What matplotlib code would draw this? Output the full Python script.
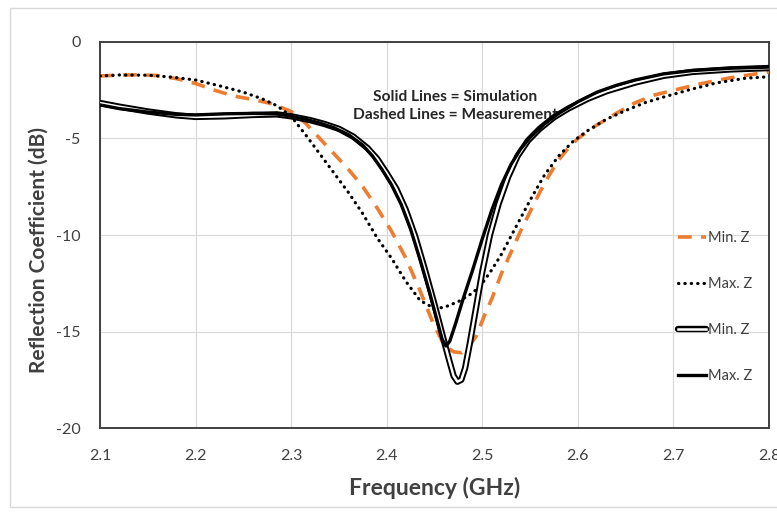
import matplotlib.pyplot as plt
from matplotlib.patches import Rectangle

plt.rcParams['font.family'] = ['Lato', 'DejaVu Sans']

# measured, Min. Z (orange dashed)
f_meas_min = [2.100, 2.120, 2.140, 2.160, 2.180, 2.200, 2.220, 2.240, 2.260, 2.280, 2.300,
              2.315, 2.330, 2.345, 2.360, 2.375, 2.390, 2.405, 2.420, 2.435, 2.448, 2.460,
              2.470, 2.478, 2.486, 2.494, 2.502, 2.510, 2.520, 2.530, 2.540, 2.550, 2.560,
              2.570, 2.580, 2.590, 2.600, 2.620, 2.640, 2.660, 2.680, 2.700, 2.730, 2.760,
              2.780, 2.800]
s_meas_min = [-1.76, -1.72, -1.70, -1.74, -1.90, -2.15, -2.50, -2.80, -2.98, -3.20, -3.60,
              -4.20, -5.00, -5.80, -6.60, -7.50, -8.60, -9.80, -11.2, -12.9, -14.5, -15.7,
              -16.05, -16.1, -15.8, -15.2, -14.2, -13.3, -12.0, -10.9, -9.8, -8.8, -7.8,
              -6.9, -6.1, -5.5, -5.0, -4.3, -3.7, -3.15, -2.75, -2.5, -2.15, -1.85,
              -1.70, -1.55]

# measured, Max. Z (black dotted)
f_meas_max = [2.100, 2.120, 2.150, 2.175, 2.200, 2.225, 2.250, 2.270, 2.285, 2.300, 2.315,
              2.330, 2.345, 2.360, 2.375, 2.390, 2.405, 2.420, 2.435, 2.450, 2.460, 2.475,
              2.490, 2.500, 2.510, 2.520, 2.535, 2.550, 2.565, 2.580, 2.595, 2.610, 2.630,
              2.650, 2.670, 2.690, 2.715, 2.745, 2.775, 2.800]
s_meas_max = [-1.76, -1.71, -1.72, -1.82, -1.97, -2.27, -2.60, -2.95, -3.30, -3.85, -4.80,
              -5.80, -6.80, -7.80, -8.90, -10.15, -11.2, -12.4, -13.4, -13.8, -13.75, -13.45,
              -13.0, -12.5, -11.8, -11.0, -9.6, -8.2, -6.9, -5.9, -5.15, -4.6, -4.0,
              -3.55, -3.15, -2.85, -2.5, -2.12, -1.88, -1.80]

# simulated, Min. Z (double line)
f_sim_min = [2.100, 2.120, 2.150, 2.180, 2.200, 2.230, 2.260, 2.285, 2.300, 2.320, 2.335,
             2.350, 2.365, 2.380, 2.390, 2.400, 2.410, 2.420, 2.430, 2.440, 2.450, 2.460,
             2.466, 2.470, 2.474, 2.478, 2.482, 2.487, 2.493, 2.500, 2.508, 2.517, 2.527,
             2.537, 2.548, 2.560, 2.575, 2.590, 2.610, 2.630, 2.660, 2.690, 2.720, 2.760,
             2.800]
s_sim_min = [-3.16, -3.35, -3.60, -3.80, -3.88, -3.85, -3.78, -3.75, -3.85, -4.05, -4.25,
             -4.50, -4.90, -5.50, -6.05, -6.80, -7.60, -8.70, -10.1, -11.8, -13.6, -15.5,
             -16.6, -17.3, -17.6, -17.5, -16.9, -15.6, -13.9, -11.9, -10.0, -8.4, -7.0,
             -5.9, -5.1, -4.5, -3.9, -3.45, -2.95, -2.55, -2.10, -1.75, -1.55, -1.42,
             -1.35]

# simulated, Max. Z (black solid)
f_sim_max = [2.100, 2.120, 2.150, 2.180, 2.200, 2.230, 2.260, 2.285, 2.300, 2.315, 2.330,
             2.345, 2.360, 2.375, 2.385, 2.395, 2.405, 2.415, 2.425, 2.435, 2.445, 2.452,
             2.458, 2.462, 2.466, 2.472, 2.480, 2.490, 2.500, 2.510, 2.520, 2.530, 2.540,
             2.550, 2.565, 2.580, 2.600, 2.620, 2.640, 2.660, 2.690, 2.720, 2.760, 2.800]
s_sim_max = [-3.26, -3.45, -3.63, -3.75, -3.78, -3.72, -3.70, -3.73, -3.85, -4.00, -4.20,
             -4.45, -4.80, -5.35, -5.90, -6.60, -7.40, -8.40, -9.70, -11.3, -13.0, -14.3,
             -15.4, -15.75, -15.5, -14.6, -13.3, -11.8, -10.2, -8.7, -7.4, -6.35, -5.55,
             -4.95, -4.25, -3.70, -3.10, -2.60, -2.25, -1.97, -1.65, -1.48, -1.36, -1.30]

x_ticks = [2.1, 2.2, 2.3, 2.4, 2.5, 2.6, 2.7, 2.8]
y_ticks = [0, -5, -10, -15, -20]

orange = '#ED7D31'
txt = '#404040'

fig = plt.figure(figsize=(7.77, 5.12), dpi=100)
fig.patches.append(Rectangle((0.013, 0.01), 0.99, 0.975, transform=fig.transFigure,
                             fill=False, edgecolor='#D9D9D9', lw=1.0))
ax = fig.add_axes([0.1287, 0.164, 0.861, 0.754])

l1, = ax.plot(f_meas_min, s_meas_min, color=orange, lw=2.6, dashes=(3.8, 2.6), zorder=3)
l2, = ax.plot(f_meas_max, s_meas_max, color='black', lw=2.3, linestyle=(0, (0.1, 1.9)),
              dash_capstyle='round', zorder=3)
l3a, = ax.plot(f_sim_min, s_sim_min, color='black', lw=4.6, solid_joinstyle='round',
               solid_capstyle='round', zorder=4)
l3b, = ax.plot(f_sim_min, s_sim_min, color='white', lw=1.8, solid_joinstyle='round', zorder=4)
l4, = ax.plot(f_sim_max, s_sim_max, color='black', lw=2.4, solid_joinstyle='round', zorder=5)

ax.set_xlim(2.1, 2.8)
ax.set_ylim(-20, 0)
ax.set_xticks(x_ticks)
ax.set_xticklabels([f'{v:.1f}' for v in x_ticks])
ax.set_yticks(y_ticks)
ax.set_yticklabels([str(v) for v in y_ticks])
ax.tick_params(length=0, labelsize=11.5, labelcolor=txt)
ax.tick_params(axis='x', pad=15)
ax.tick_params(axis='y', pad=14)
ax.grid(True, color='#D9D9D9', lw=0.9, zorder=0)
ax.set_axisbelow(True)
for sp in ax.spines.values():
    sp.set_color('#404040')
    sp.set_linewidth(1.4)

ax.set_xlabel('Frequency (GHz)', fontsize=16.5, fontweight='bold', color=txt, labelpad=10)
ax.set_ylabel('Reflection Coefficient (dB)', fontsize=15, fontweight='bold', color=txt)
ax.yaxis.set_label_coords(-0.076, 0.46)

ax.text(2.472, -2.85, 'Solid Lines = Simulation', ha='center', va='center',
        fontsize=11.2, fontweight='bold', color='#262626', zorder=1)
ax.text(2.472, -3.8, 'Dashed Lines = Measurement', ha='center', va='center',
        fontsize=11.2, fontweight='bold', color='#262626', zorder=1)

leg = ax.legend([l1, l2, (l3a, l3b), l4], ['Min. Z', 'Max. Z', 'Min. Z', 'Max. Z'],
                loc='upper left', bbox_to_anchor=(0.845, 0.545), frameon=False,
                handlelength=1.9, handletextpad=0.1, labelspacing=2.2,
                fontsize=10.5, labelcolor=txt)

fig.savefig('out.png', dpi=100)
